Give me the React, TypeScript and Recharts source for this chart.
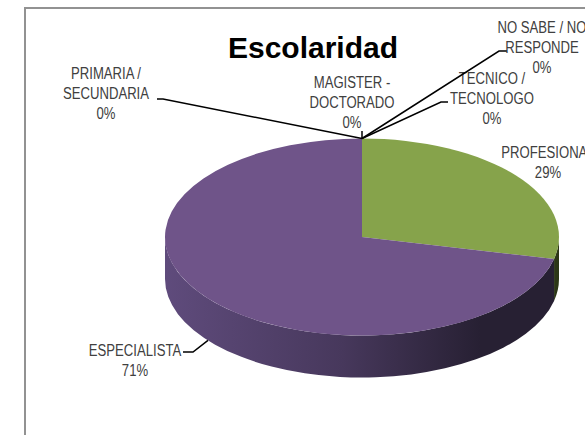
import { Pie, PieChart } from 'recharts';

const categories = [
  'PRIMARIA / SECUNDARIA',
  'TECNICO / TECNOLOGO',
  'PROFESIONAL',
  'ESPECIALISTA',
  'MAGISTER - DOCTORADO',
  'NO SABE / NO RESPONDE',
];
const counts = [0, 0, 2, 5, 0, 0];

const topColors = ['#4f81bd', '#c0504d', '#86a34b', '#6f5489', '#4bacc6', '#f79646'];
const sideColors = [
  ['#3a5f8c', '#22384f'],
  ['#8c3a38', '#4f2120'],
  ['#3f4f20', '#2c3716'],
  ['#5f4b7c', '#272033'],
  ['#37808f', '#1f4751'],
  ['#b56e33', '#643d1c'],
];

// label placement (relative to pie centre), like the hand-placed Excel labels
const labelLayout = [
  { lines: ['PRIMARIA /', 'SECUNDARIA'], dx: -256, dy: -164, leader: [[-199, -138], [-205, -138]] },
  { lines: ['TECNICO /', 'TECNOLOGO'], dx: 130, dy: -159, leader: [[79, -135], [86, -135]] },
  { lines: ['PROFESIONAL'], dx: 186, dy: -85, leader: [] },
  { lines: ['ESPECIALISTA'], dx: -227, dy: 113, leader: [[-169, 115], [-179, 115]] },
  { lines: ['MAGISTER -', 'DOCTORADO'], dx: -10, dy: -155, leader: [[0, -106]] },
  { lines: ['NO SABE / NO', 'RESPONDE'], dx: 180, dy: -210, leader: [[137, -186], [145, -186]] },
];

const data = categories.map((name, i) => ({ name, value: counts[i] }));

const TILT = 0.5;
const DEPTH = 42;
const RAD = Math.PI / 180;
const labelFont = "'Liberation Sans', Arial, sans-serif";
const NARROW = 0.82;

const pt = (cx: number, cy: number, r: number, a: number, off = 0) => [
  cx + r * Math.cos(a * RAD),
  cy - r * TILT * Math.sin(a * RAD) + off,
];

function Slice3D(props: any) {
  const { cx, cy, outerRadius: r, startAngle, endAngle, index } = props;
  const sweep = Math.abs(startAngle - endAngle);
  if (sweep < 0.01) return <g />;
  const ry = r * TILT;
  const hi = Math.max(startAngle, endAngle);
  const lo = Math.min(startAngle, endAngle);

  // front wall: parts of the slice where sin < 0
  const walls: string[] = [];
  for (let k = -2; k <= 1; k++) {
    const a = Math.max(lo, 180 + 360 * k);
    const b = Math.min(hi, 360 + 360 * k);
    if (b - a > 0.01) {
      const [x1, y1] = pt(cx, cy, r, b);
      const [x2, y2] = pt(cx, cy, r, a);
      const large = b - a > 180 ? 1 : 0;
      walls.push(
        `M${x1},${y1} A${r},${ry} 0 ${large} 1 ${x2},${y2} L${x2},${y2 + DEPTH} A${r},${ry} 0 ${large} 0 ${x1},${y1 + DEPTH} Z`,
      );
    }
  }

  const [sx, sy] = pt(cx, cy, r, startAngle);
  const [ex, ey] = pt(cx, cy, r, endAngle);
  const top = `M${cx},${cy} L${sx},${sy} A${r},${ry} 0 ${sweep > 180 ? 1 : 0} 1 ${ex},${ey} Z`;
  const gid = `side-${index}`;

  return (
    <g>
      <defs>
        <linearGradient id={gid} gradientUnits="userSpaceOnUse" x1={cx - r} y1={0} x2={cx + r} y2={0}>
          <stop offset="0" stopColor={sideColors[index][0]} />
          <stop offset="0.45" stopColor="#47385c" stopOpacity={index === 3 ? 1 : 0} />
          <stop offset="0.8" stopColor={sideColors[index][1]} />
          <stop offset="1" stopColor={sideColors[index][1]} />
        </linearGradient>
      </defs>
      {walls.map((d, i) => (
        <path key={i} d={d} fill={index === 3 ? `url(#${gid})` : sideColors[index][1]} />
      ))}
      <path d={top} fill={topColors[index]} />
    </g>
  );
}

function renderLabel(props: any) {
  const { cx, cy, midAngle, outerRadius, percent, index } = props;
  const lay = labelLayout[index];
  const sinA = Math.sin(midAngle * RAD);
  const [rx, ry] = pt(cx, cy, outerRadius, midAngle, sinA < -0.01 ? DEPTH : 0);
  const linePts = [[rx, ry], ...lay.leader.map(([x, y]) => [cx + x, cy + y])];
  const lines = [...lay.lines, `${Math.round(percent * 100)}%`];
  return (
    <g key={`lbl-${index}`}>
      {lay.leader.length > 0 && (
        <polyline
          points={linePts.map((p) => p.join(',')).join(' ')}
          fill="none"
          stroke="#000"
          strokeWidth={1.5}
        />
      )}
      <g transform={`translate(${cx + lay.dx},${cy + lay.dy}) scale(${NARROW},1)`}>
        <text textAnchor="middle" fill="#404040" fontFamily={labelFont} fontSize={16}>
          {lines.map((t, i) => (
            <tspan key={i} x={0} y={i * 20 + 6}>
              {t}
            </tspan>
          ))}
        </text>
      </g>
    </g>
  );
}

export default function App() {
  return (
    <div style={{ position: 'fixed', left: 0, top: 0, width: 585, height: 435, overflow: 'hidden', background: '#fff' }}>
      <div
        style={{
          position: 'absolute',
          left: 24,
          top: 7,
          width: 620,
          height: 480,
          border: '2px solid #929292',
        }}
      />
      <div style={{ position: 'absolute', left: 0, top: 0 }}>
        <PieChart width={585} height={435} margin={{ top: 0, right: 0, bottom: 0, left: 0 }}>
          <Pie
            data={data}
            dataKey="value"
            nameKey="name"
            cx={362}
            cy={237}
            outerRadius={197}
            startAngle={90}
            endAngle={-270}
            stroke="none"
            shape={Slice3D}
            inactiveShape={Slice3D}
            activeShape={Slice3D}
            label={renderLabel}
            labelLine={false}
            isAnimationActive={false}
          />
        </PieChart>
      </div>
      <svg width={585} height={435} style={{ position: 'absolute', left: 0, top: 0, pointerEvents: 'none' }}>
        <text x={313} y={58} textAnchor="middle" fontFamily="'Liberation Sans', Arial, sans-serif" fontWeight="bold" fontSize={30} fill="#000">
          Escolaridad
        </text>
      </svg>
    </div>
  );
}
